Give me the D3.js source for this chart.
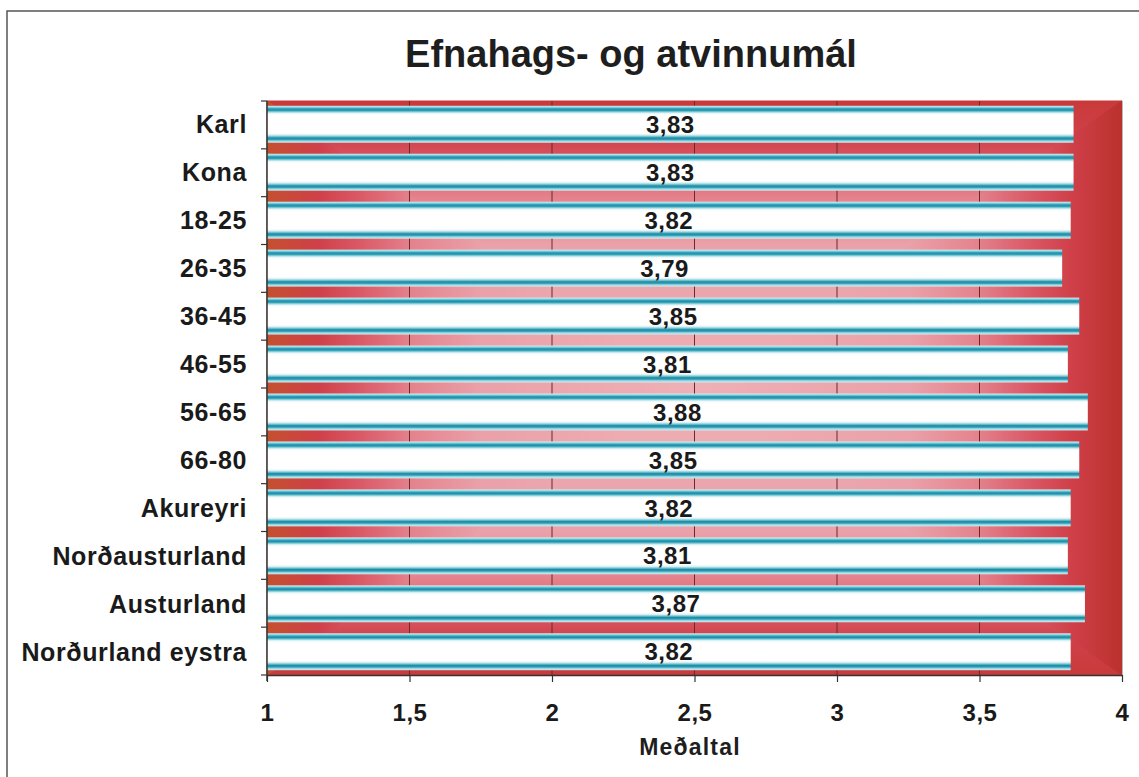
<!DOCTYPE html>
<html><head><meta charset="utf-8">
<script src="https://cdn.jsdelivr.net/npm/d3@7"></script>
<style>
html,body{margin:0;padding:0;background:#fff;}
svg{display:block;font-family:"Liberation Sans",Arial,sans-serif;}
</style></head>
<body>
<svg id="chart" width="1139" height="777"></svg>
<script>
const categories = ["Karl","Kona","18-25","26-35","36-45","46-55","56-65","66-80","Akureyri","Norðausturland","Austurland","Norðurland eystra"];
const values = [3.83,3.83,3.82,3.79,3.85,3.81,3.88,3.85,3.82,3.81,3.87,3.82];
const xTicks = [1,1.5,2,2.5,3,3.5,4];
const titleText = "Efnahags- og atvinnumál";
const xTitle = "Meðaltal";

const svg = d3.select("#chart");
const X0 = 267, X1 = 1122, Y0 = 101, Y1 = 675;
const x = d3.scaleLinear().domain([1,4]).range([X0,X1]);
const y = d3.scaleBand().domain(categories).range([Y0,Y1]).paddingInner(0.23).paddingOuter(0.1);
const fmt = v => String(v).replace(".", ",");

// outer frame
svg.append("rect").attr("x",7).attr("y",11).attr("width",1150).attr("height",800)
  .attr("fill","none").attr("stroke","#555").attr("stroke-width",1.5);

const defs = svg.append("defs");
const stops = [[0,"#eeb0b6"],[0.5,"#eaa1a9"],[0.66,"#e4838e"],[0.78,"#da5a67"],[0.88,"#cf4049"],[1,"#c0342f"]];
const cx = (X0+X1)/2, cy = (Y0+Y1)/2;
const tris = [
  {id:"gT", pts:[[X0,Y0],[X1,Y0],[cx,cy]], to:[cx,Y0], edge:"#c83a3a"},
  {id:"gB", pts:[[X0,Y1],[X1,Y1],[cx,cy]], to:[cx,Y1], edge:"#c83a3a"},
  {id:"gL", pts:[[X0,Y0],[X0,Y1],[cx,cy]], to:[X0,cy], edge:"#c4502f"},
  {id:"gR", pts:[[X1,Y0],[X1,Y1],[cx,cy]], to:[X1,cy], edge:"#bb312d"}
];
tris.forEach(t => {
  const g = defs.append("linearGradient").attr("id",t.id).attr("gradientUnits","userSpaceOnUse")
    .attr("x1",cx).attr("y1",cy).attr("x2",t.to[0]).attr("y2",t.to[1]);
  stops.forEach((s,i) => g.append("stop").attr("offset",s[0]).attr("stop-color", i===stops.length-1 ? t.edge : s[1]));
});
const bg = svg.append("g");
tris.forEach(t => {
  bg.append("polygon").attr("points", t.pts.map(p=>p.join(",")).join(" "))
    .attr("fill",`url(#${t.id})`).attr("stroke",`url(#${t.id})`).attr("stroke-width",1);
});

// bar gradient
const bgrad = defs.append("linearGradient").attr("id","barG").attr("x1",0).attr("y1",0).attr("x2",0).attr("y2",1);
[[0,"#d2eff4"],[0.04,"#8ad6e2"],[0.08,"#2e9cb4"],[0.12,"#1f8ea8"],[0.16,"#7ccbd8"],[0.2,"#e2f5f8"],[0.24,"#ffffff"],
 [0.74,"#ffffff"],[0.79,"#d6eff3"],[0.83,"#78c6d4"],[0.87,"#1f8ca6"],[0.91,"#2c98b0"],[0.95,"#92d6e2"],[1,"#d2eff4"]]
  .forEach(s => bgrad.append("stop").attr("offset",s[0]).attr("stop-color",s[1]));

// gridlines
svg.append("g").selectAll("line").data(xTicks.slice(1,-1)).join("line")
  .attr("x1",d=>x(d)).attr("x2",d=>x(d)).attr("y1",Y0).attr("y2",Y1)
  .attr("stroke","#6a2a2a").attr("stroke-width",1);

// plot right border
svg.append("line").attr("x1",X1+0.5).attr("x2",X1+0.5).attr("y1",Y0).attr("y2",Y1).attr("stroke","#b8b8b8");

// bars
svg.append("g").selectAll("rect").data(categories).join("rect")
  .attr("x",x(1)).attr("y",d=>y(d)).attr("height",y.bandwidth())
  .attr("width",(d,i)=>x(values[i])-x(1)).attr("fill","url(#barG)");

// value labels
svg.append("g").selectAll("text").data(categories).join("text")
  .attr("x",(d,i)=>(x(1)+x(values[i]))/2).attr("y",d=>y(d)+y.bandwidth()/2)
  .attr("dy","0.36em").attr("text-anchor","middle")
  .attr("font-size",24).attr("font-weight","bold").attr("letter-spacing",0.5).attr("fill","#1a1a1a")
  .text((d,i)=>fmt(values[i]));

// y axis
const yAx = svg.append("g");
yAx.append("line").attr("x1",X0).attr("x2",X0).attr("y1",Y0).attr("y2",Y1+6).attr("stroke","#333").attr("stroke-width",1.5);
const bounds = d3.range(categories.length+1).map(i => Y0 + i*(Y1-Y0)/categories.length);
yAx.selectAll("line.t").data(bounds).join("line").attr("class","t")
  .attr("x1",X0-6).attr("x2",X0).attr("y1",d=>d).attr("y2",d=>d).attr("stroke","#333").attr("stroke-width",1.2);
yAx.selectAll("text").data(categories).join("text")
  .attr("x",247).attr("y",d=>y(d)+y.bandwidth()/2).attr("dy","0.36em")
  .attr("text-anchor","end").attr("font-size",25).attr("font-weight","bold").attr("letter-spacing",0.6).attr("fill","#1a1a1a")
  .text(d=>d);

// x axis
const xAx = svg.append("g").attr("transform",`translate(0,${Y1})`)
  .call(d3.axisBottom(x).tickValues(xTicks).tickSize(7).tickSizeOuter(0).tickFormat(fmt).tickPadding(22));
xAx.select(".domain").attr("stroke","#333").attr("stroke-width",1.5);
xAx.selectAll(".tick line").attr("stroke","#333").attr("stroke-width",1.2);
xAx.selectAll(".tick text").attr("font-size",24).attr("font-weight","bold").attr("letter-spacing",0.5).attr("fill","#1a1a1a")
  .attr("font-family","'Liberation Sans',Arial,sans-serif");

// titles
svg.append("text").attr("x",631).attr("y",67).attr("text-anchor","middle")
  .attr("font-size",38).attr("font-weight","bold").attr("fill","#1e1e1e").text(titleText);
svg.append("text").attr("x",690).attr("y",755).attr("text-anchor","middle")
  .attr("font-size",23).attr("font-weight","bold").attr("letter-spacing",1.2).attr("fill","#1e1e1e").text(xTitle);
</script>
</body></html>
